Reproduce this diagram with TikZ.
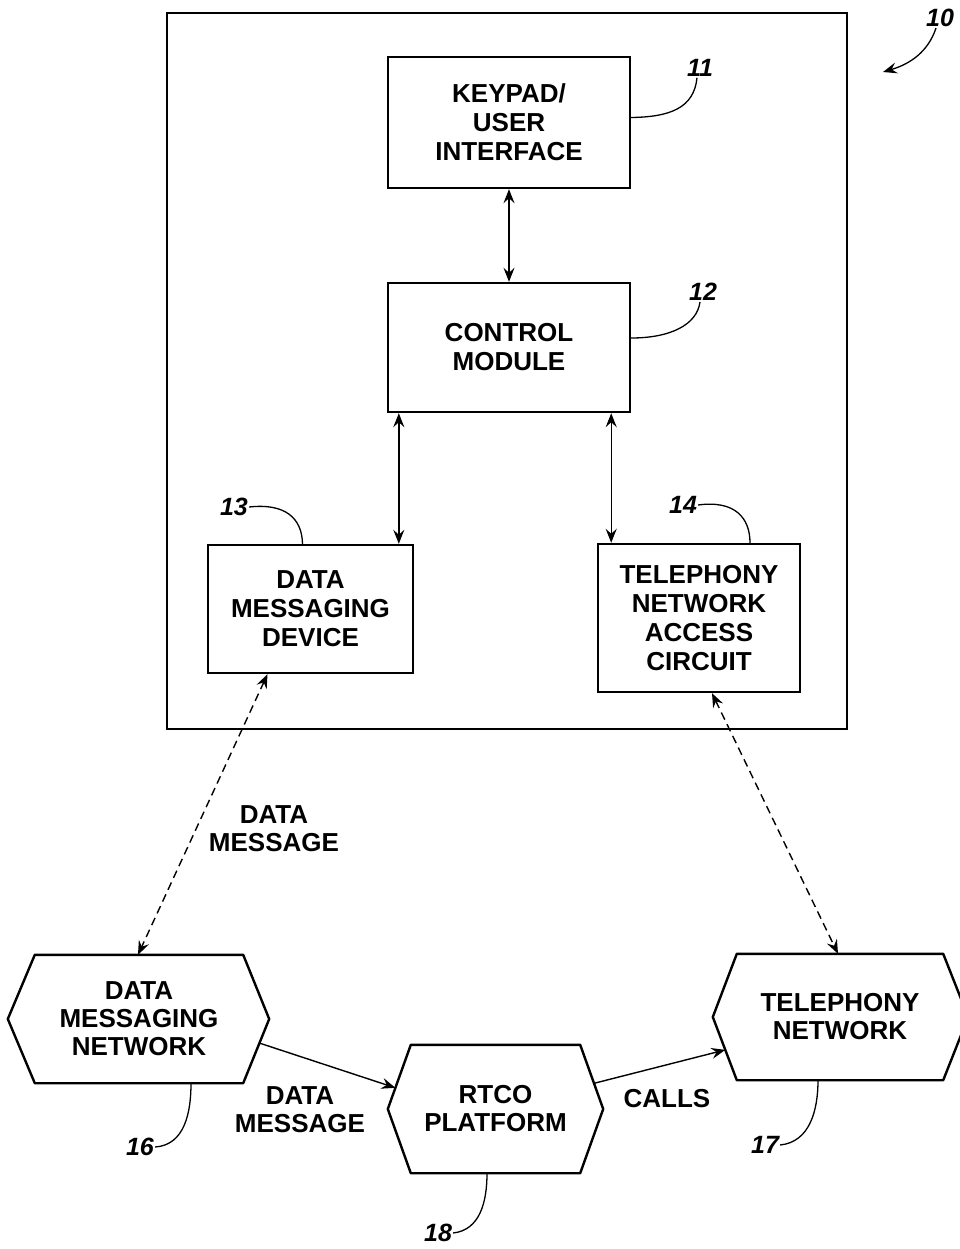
\documentclass[tikz,border=0pt]{standalone}
\usepackage{fontspec}
\setmainfont{Liberation Sans}
\usetikzlibrary{arrows.meta,calc}

\begin{document}
\begin{tikzpicture}[x=1pt,y=-1pt,
		blk/.style={draw,line width=2.4pt,align=center,inner sep=0pt,font=\fontsize{26}{29}\selectfont\bfseries},
		hexblk/.style={align=center,inner sep=0pt,font=\fontsize{26}{28}\selectfont\bfseries},
		hexline/.style={line width=2.4pt,line join=round},
		lbl/.style={align=center,font=\fontsize{26}{28}\selectfont\bfseries},
		num/.style={inner sep=1pt,font=\fontsize{25}{25}\selectfont\bfseries\itshape},
		tip/.style={-{Stealth[length=14pt,width=11pt,inset=5pt]}},
		lnk/.style={line width=1.4pt,{Stealth[length=14pt,width=11pt,inset=5pt]}-{Stealth[length=14pt,width=11pt,inset=5pt]}},
		dlnk/.style={lnk,dash pattern=on 8pt off 5pt},
		lead/.style={line width=1.3pt}]
			%%%%% START %%%%%
			\clip (0,0) rectangle (960,1249);
			
			% outer frame
			\draw[line width=1.6pt] (167,13) rectangle (847,729);
			
			\node[blk,minimum width=242pt,minimum height=131pt] (kp) at (509,122.5) {KEYPAD/\\USER\\INTERFACE};
			\node[blk,minimum width=242pt,minimum height=129pt] (cm) at (509,347.5) {CONTROL\\MODULE};
			\node[blk,minimum width=205pt,minimum height=128pt] (dmd) at (310.5,609) {DATA\\MESSAGING\\DEVICE};
			\node[blk,minimum width=202pt,minimum height=148pt] (tnac) at (699,618) {TELEPHONY\\NETWORK\\ACCESS\\CIRCUIT};
			
			\draw[lnk] (kp.south) -- (cm.north);
			\draw[lnk] ([xshift=12pt]cm.south west) -- ([xshift=12pt]cm.south west |- dmd.north);
			\draw[lnk] ([xshift=-20pt]cm.south east) -- ([xshift=-20pt]cm.south east |- tnac.north);
			
			% networks
			\node[hexblk,minimum width=208pt,minimum height=128pt] (dmn) at (139,1019) {DATA\\MESSAGING\\NETWORK};
			\coordinate (dmn-l) at ([xshift=-27pt]dmn.west);
			\coordinate (dmn-r) at ([xshift=26pt]dmn.east);
			\draw[hexline] (dmn.north west) -- (dmn.north east) -- (dmn-r) -- (dmn.south east) -- (dmn.south west) -- (dmn-l) -- cycle;
			
			\node[hexblk,minimum width=169pt,minimum height=128pt] (rtco) at (495.5,1109) {RTCO\\PLATFORM};
			\coordinate (rtco-l) at ([xshift=-23pt]rtco.west);
			\coordinate (rtco-r) at ([xshift=23pt]rtco.east);
			\draw[hexline] (rtco.north west) -- (rtco.north east) -- (rtco-r) -- (rtco.south east) -- (rtco.south west) -- (rtco-l) -- cycle;
			
			\node[hexblk,minimum width=206pt,minimum height=126pt] (tn) at (840,1017) {TELEPHONY\\NETWORK};
			\coordinate (tn-l) at ([xshift=-24pt]tn.west);
			\coordinate (tn-r) at ([xshift=25pt]tn.east);
			\draw[hexline] (tn.north west) -- (tn.north east) -- (tn-r) -- (tn.south east) -- (tn.south west) -- (tn-l) -- cycle;
			
			\draw[dlnk] ([xshift=-43pt]dmd.south) -- ([xshift=-1pt]dmn.north);
			\draw[dlnk] ([xshift=13pt]tnac.south) -- ([xshift=-2pt]tn.north);
			
			\coordinate (dmn-o) at ($(dmn-r)!0.375!(dmn.south east)$);
			\coordinate (rtco-i) at ($(rtco-l)!0.33!(rtco.north west)$);
			\coordinate (rtco-o) at ($(rtco-r)!0.4!(rtco.north east)$);
			\coordinate (tn-i) at ($(tn-l)!0.52!(tn.south west)$);
			\draw[line width=1.4pt,tip] (dmn-o) -- (rtco-i);
			\draw[line width=1.4pt,tip] (rtco-o) -- (tn-i);
			
			\node[lbl] (msg1) at (274,829) {DATA\\MESSAGE};
			\node[lbl] (msg2) at (300,1110) {DATA\\MESSAGE};
			\node[lbl] (calls) at (667,1099) {CALLS};
			
			% reference numerals
			\node[num] (n10) at (940,18) {10};
			\coordinate (p10) at (883,72);
			\draw[lead,tip] ([xshift=-4pt]n10.south) .. controls (928,52) and (910,64) .. (p10);
			
			\node[num] (n11) at (700,68) {11};
			\draw[lead] ([xshift=-3pt]n11.south) .. controls (694,108) and (670,117) .. ([yshift=5pt]kp.east);
			
			\node[num] (n12) at (703,292) {12};
			\draw[lead] ([xshift=-3pt]n12.south) .. controls (697,325) and (670,338) .. ([yshift=9.5pt]cm.east);
			
			\node[num] (n13) at (234,507) {13};
			\draw[lead] (n13.east) .. controls (285,503) and (302,518) .. ([xshift=-8pt]dmd.north);
			
			\node[num] (n14) at (683,505) {14};
			\draw[lead] (n14.east) .. controls (735,500) and (750,518) .. ([xshift=51pt]tnac.north);
			
			\node[num] (n16) at (140,1147) {16};
			\draw[lead] (n16.east) .. controls (185,1145) and (191,1112) .. ([xshift=52pt]dmn.south);
			
			\node[num] (n17) at (765,1145) {17};
			\draw[lead] (n17.east) .. controls (810,1142) and (818,1110) .. ([xshift=-22pt]tn.south);
			
			\node[num] (n18) at (438,1233) {18};
			\draw[lead] (n18.east) .. controls (480,1230) and (487,1202) .. ([xshift=-8.5pt]rtco.south);
			
			%%%%% END %%%%%
\end{tikzpicture}
\end{document}
